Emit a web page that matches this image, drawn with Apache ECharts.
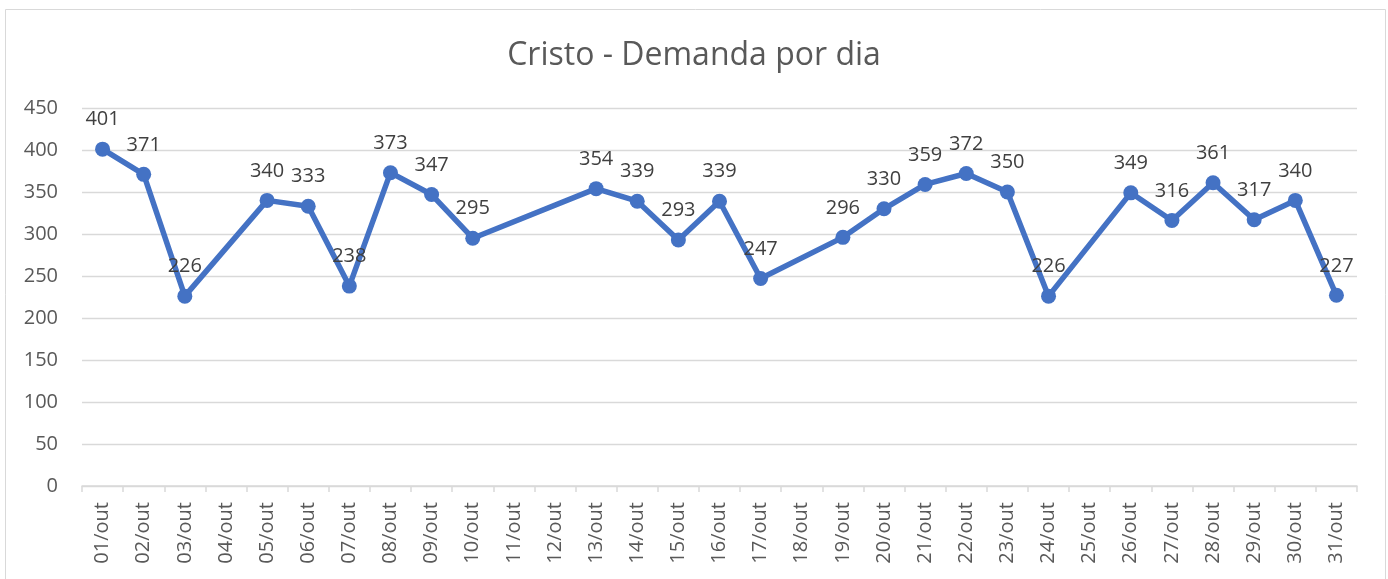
<!DOCTYPE html>
<html>
<head>
<meta charset="utf-8">
<script src="https://cdn.jsdelivr.net/npm/echarts@6/dist/echarts.min.js"></script>
<style>
html,body{margin:0;padding:0;background:#fff;}
#chart{width:1388px;height:579px;}
</style>
</head>
<body>
<div id="chart"></div>
<script>
const titleText = 'Cristo - Demanda por dia';
const categories = ['01/out','02/out','03/out','04/out','05/out','06/out','07/out','08/out','09/out','10/out','11/out','12/out','13/out','14/out','15/out','16/out','17/out','18/out','19/out','20/out','21/out','22/out','23/out','24/out','25/out','26/out','27/out','28/out','29/out','30/out','31/out'];
const demanda = [401,371,226,null,340,333,238,373,347,295,null,null,354,339,293,339,247,null,296,330,359,372,350,226,null,349,316,361,317,340,227];
const yMin = 0, yMax = 450, yStep = 50;

const font = '"Open Sans", "Noto Sans", sans-serif';
const chart = echarts.init(document.getElementById('chart'), null, {renderer:'canvas'});
chart.setOption({
  backgroundColor:'#fff',
  animation:false,
  title:{
    text:titleText, left:'center', top:35,
    textStyle:{fontFamily:font, fontSize:32, fontWeight:'normal', color:'#595959'}
  },
  graphic:[{type:'rect', shape:{x:5.5,y:9.5,width:1380,height:600}, style:{fill:'none', stroke:'#d9d9d9', lineWidth:1}, silent:true}],
  grid:{left:82, right:31, top:108, bottom:93},
  xAxis:{
    type:'category', data:categories, boundaryGap:true,
    axisLine:{lineStyle:{color:'#d9d9d9', width:1.5}},
    axisTick:{show:true, length:6, lineStyle:{color:'#d9d9d9', width:1.5}},
    axisLabel:{rotate:90, margin:16, fontFamily:font, fontSize:20, color:'#595959', interval:0}
  },
  yAxis:{
    type:'value', min:yMin, max:yMax, interval:yStep,
    axisLine:{show:false}, axisTick:{show:false},
    splitLine:{lineStyle:{color:'#d9d9d9', width:1.3}},
    axisLabel:{margin:24, fontFamily:font, fontSize:20, color:'#595959'}
  },
  series:[{
    type:'line', data:demanda, connectNulls:true,
    symbol:'circle', symbolSize:15,
    lineStyle:{color:'#4472C4', width:5.5},
    itemStyle:{color:'#4472C4'},
    label:{show:true, position:'top', distance:12, fontFamily:font, fontSize:20, color:'#404040'}
  }]
});
</script>
</body>
</html>
